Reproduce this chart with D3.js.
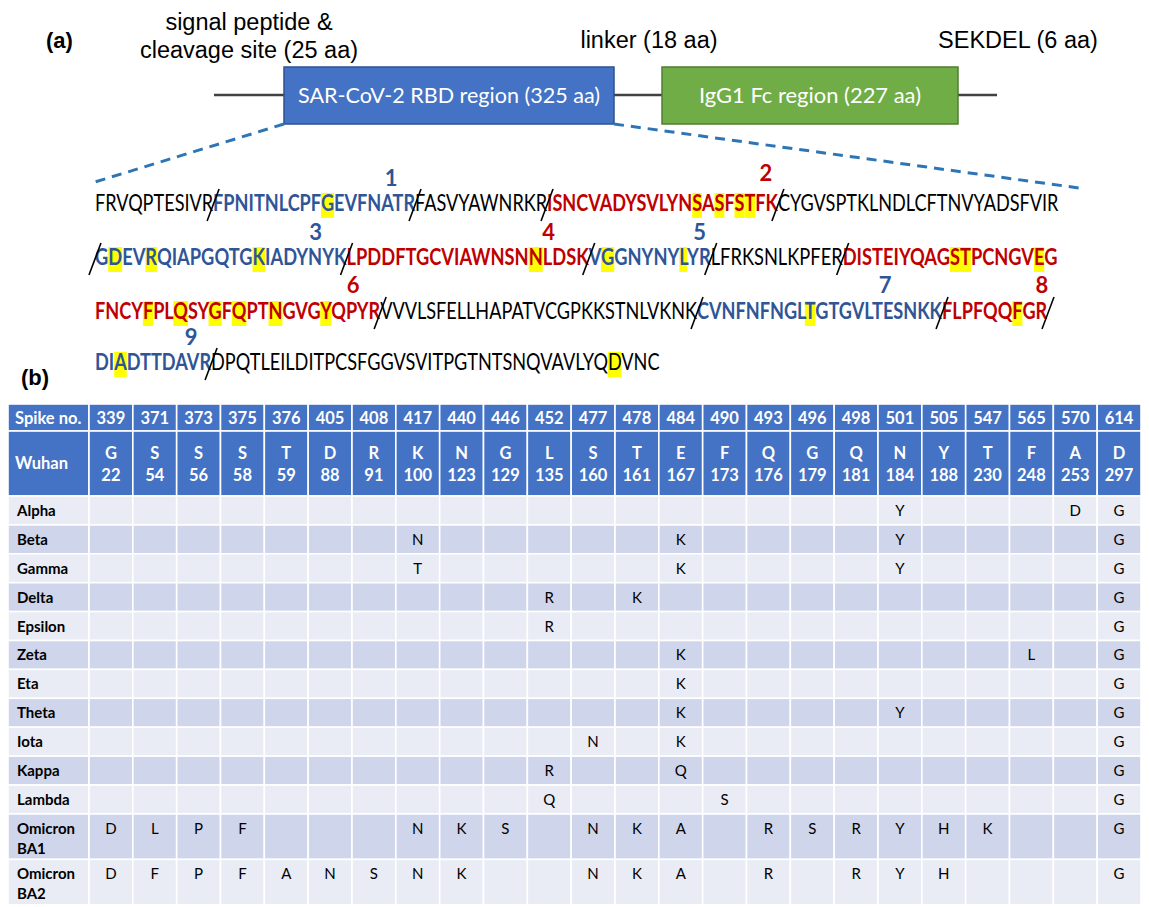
<!DOCTYPE html>
<html>
<head>
<meta charset="utf-8">
<script src="https://cdn.jsdelivr.net/npm/d3@7"></script>
<style>
  body { margin: 0; background: #fff; }
  svg { display: block; }
</style>
</head>
<body>
<div id="figure"></div>
<script>
/*
   Data
 */

// (a) construct
const constructParts = ['SAR-CoV-2 RBD region (325 aa)', 'IgG1 Fc region (227 aa)'];
const constructNotes = [['signal peptide &', 'cleavage site (25 aa)'], ['linker (18 aa)'], ['SEKDEL (6 aa)']];

// RBD sequence, line by line. '/' = cleavage mark
// [kind, residues, peptide no., highlighted residue indices]
const seqLines = [
  [['k', 'FRVQPTESIVR'], '/', ['b', 'FPNITNLCPFGEVFNATR', '1', [10]], '/', ['k', 'FASVYAWNRKR'], '/',
    ['r', 'ISNCVADYSVLYNSASFSTFK', '2', [13, 15, 17, 18]], '/', ['k', 'CYGVSPTKLNDLCFTNVYADSFVIR']],
  ['/', ['b', 'GDEVRQIAPGQTGKIADYNYK', '3', [1, 4, 13]], '/', ['r', 'LPDDFTGCVIAWNSNNLDSK', '4', [15]], '/',
    ['b', 'VGGNYNYLYR', '5', [1, 7]], '/', ['k', 'LFRKSNLKPFER'], '/', ['r', 'DISTEIYQAGSTPCNGVEG', null, [10, 11, 17]]],
  [['r', 'FNCYFPLQSYGFQPTNGVGYQPYR', '6', [4, 7, 10, 12, 15, 19]], '/', ['k', 'VVVLSFELLHAPATVCGPKKSTNLVKNK'], '/',
    ['b', 'CVNFNFNGLTGTGVLTESNKK', '7', [9]], '/', ['r', 'FLPFQQFGR', '8', [6]], '/'],
  [['b', 'DIADTTDAVR', '9', [2]], '/', ['k', 'DPQTLEILDITPCSFGGVSVITPGTNTSNQVAVLYQDVNC', null, [36]]],
];

// (b) table
const spikeNo = [339, 371, 373, 375, 376, 405, 408, 417, 440, 446, 452, 477, 478, 484, 490, 493, 496, 498, 501, 505, 547, 565, 570, 614];
const wuhanAA = ['G', 'S', 'S', 'S', 'T', 'D', 'R', 'K', 'N', 'G', 'L', 'S', 'T', 'E', 'F', 'Q', 'G', 'Q', 'N', 'Y', 'T', 'F', 'A', 'D'];
const wuhanPos = [22, 54, 56, 58, 59, 88, 91, 100, 123, 129, 135, 160, 161, 167, 173, 176, 179, 181, 184, 188, 230, 248, 253, 297];
const variants = ['Alpha', 'Beta', 'Gamma', 'Delta', 'Epsilon', 'Zeta', 'Eta', 'Theta', 'Iota', 'Kappa', 'Lambda', 'Omicron BA1', 'Omicron BA2'];
// one character per spike column, '-' = same as Wuhan
const mutations = [
  '------------------Y---DG',
  '-------N-----K----Y----G',
  '-------T-----K----Y----G',
  '----------R-K----------G',
  '----------R------------G',
  '-------------K-------L-G',
  '-------------K---------G',
  '-------------K----Y----G',
  '-----------N-K---------G',
  '----------R--Q---------G',
  '----------Q---S--------G',
  'DLPF---NKS-NKA-RSRYHK--G',
  'DFPFANSNK--NKA-R-RYH---G',
];

/*
   Setup
 */
const size = { width: 1149, height: 907 };
const svg = d3.select('#figure').append('svg').attr('width', size.width).attr('height', size.height);

const arial = "'Liberation Sans', Arial, sans-serif";
const calibri = "Lato, 'Noto Sans', sans-serif";
const colors = { k: '#000000', b: '#2F5597', r: '#C00000' };

/*
   (a) construct diagram
 */
const partA = svg.append('g');

partA.append('text').text('(a)').attr('x', 46).attr('y', 48)
  .attr('font-family', arial).attr('font-size', 22).attr('font-weight', 'bold');

partA.append('line').attr('x1', 214).attr('x2', 997).attr('y1', 95).attr('y2', 95)
  .attr('stroke', '#404040').attr('stroke-width', 2.5);

const boxes = [
  { x0: 284, x1: 614, fill: '#4472C4', stroke: '#2F528F', tl: 302 },
  { x0: 662, x1: 958, fill: '#70AD47', stroke: '#507E32', tl: 222 },
];
boxes.forEach((b, i) => {
  partA.append('rect').attr('x', b.x0).attr('y', 67).attr('width', b.x1 - b.x0).attr('height', 57)
    .attr('fill', b.fill).attr('stroke', b.stroke).attr('stroke-width', 1.5);
  partA.append('text').text(constructParts[i])
    .attr('x', (b.x0 + b.x1) / 2).attr('y', 103).attr('text-anchor', 'middle')
    .attr('font-family', calibri).attr('font-size', 21).attr('fill', '#fff')
    .attr('textLength', b.tl).attr('lengthAdjust', 'spacingAndGlyphs');
});

const noteX = [249, 649, 1018];
const noteY = [[30, 58], [48], [48]];
constructNotes.forEach((lines, i) => {
  lines.forEach((t, j) => {
    partA.append('text').text(t).attr('x', noteX[i]).attr('y', noteY[i][j])
      .attr('text-anchor', 'middle').attr('font-family', arial).attr('font-size', 23.5);
  });
});

// zoom-out dashes
[[284, 124, 95, 182], [614, 124, 1079, 188]].forEach(([x1, y1, x2, y2]) => {
  partA.append('line').attr('x1', x1).attr('y1', y1).attr('x2', x2).attr('y2', y2)
    .attr('stroke', '#2E75B6').attr('stroke-width', 3).attr('stroke-dasharray', '10,7');
});

/*
   Sequence
 */
const seqLeft = 95;
const seqRight = [1059, 1058, 1048, 660];
const seqBase = [211, 265, 319, 370];
// peptide number placement relative to the end of its peptide: [dx, dy]
const labelPos = { 1: [-24, -25], 2: [-12, -30], 3: [-31, -25], 4: [-40, -25], 5: [-11, -25], 6: [-27, -26], 7: [-57, -26], 8: [-6, -26], 9: [-20, -25] };

const seqLayer = svg.append('g');
seqLines.forEach((pieces, li) => {
  const outer = seqLayer.append('g').attr('transform', `translate(${seqLeft},${seqBase[li]})`);
  const inner = outer.append('g');
  const hlLayer = inner.append('g');
  const text = inner.append('text').attr('font-family', calibri).attr('font-size', 23);

  let idx = 0;
  const cuts = [];
  const marks = [];
  const labs = [];
  pieces.forEach((p) => {
    if (p === '/') {
      cuts.push(idx);
      return;
    }
    const [kind, str, lab, hi] = p;
    text.append('tspan').text(str).attr('fill', colors[kind]).attr('font-weight', kind === 'k' ? 400 : 700);
    (hi || []).forEach((h) => marks.push(idx + h));
    idx += str.length;
    if (lab) labs.push({ lab, kind, end: idx });
  });

  const node = text.node();
  const len = node.getComputedTextLength();
  const sx = (seqRight[li] - seqLeft) / len;
  inner.attr('transform', `scale(${sx},1)`);
  const posAt = (i) => (i >= idx ? len : node.getStartPositionOfChar(i).x);

  marks.forEach((i) => {
    const e = node.getExtentOfChar(i);
    hlLayer.append('rect').attr('x', e.x).attr('width', e.width)
      .attr('y', -18).attr('height', 25).attr('fill', '#FFFF00');
  });

  cuts.forEach((i) => {
    const cx = posAt(i) * sx;
    outer.append('line').attr('x1', cx - 6).attr('y1', 10).attr('x2', cx + 6).attr('y2', -22)
      .attr('stroke', '#000').attr('stroke-width', 1.6);
  });

  labs.forEach((l) => {
    const [dx, dy] = labelPos[l.lab];
    outer.append('text').text(l.lab)
      .attr('x', posAt(l.end) * sx + dx).attr('y', dy)
      .attr('text-anchor', 'middle').attr('font-family', calibri)
      .attr('font-size', 22).attr('font-weight', 700).attr('fill', colors[l.kind]);
  });
});

/*
   (b) table
 */
svg.append('text').text('(b)').attr('x', 21).attr('y', 385)
  .attr('font-family', arial).attr('font-size', 22).attr('font-weight', 'bold');

const tbl = svg.append('g');
const labelCol = { x0: 8, x1: 89 };
const x = d3.scaleBand().domain(spikeNo).range([labelCol.x1, 1141]);
const bw = x.bandwidth();

const headRows = [{ y0: 404, y1: 431 }, { y0: 431, y1: 496 }];
let yCursor = 496;
const bodyRows = variants.map((v, i) => {
  const lines = v.split(' ');
  const h = lines.length > 1 ? 45.5 : 28.9;
  const row = { name: v, lines, y0: yCursor, y1: yCursor + h, muts: mutations[i].split(''), i };
  yCursor += h;
  return row;
});

const cell = (x0, w, y0, y1, fill) => tbl.append('rect')
  .attr('x', x0).attr('y', y0).attr('width', w).attr('height', y1 - y0)
  .attr('fill', fill).attr('stroke', '#fff').attr('stroke-width', 1.6);

// header rows
headRows.forEach((r) => {
  cell(labelCol.x0, labelCol.x1 - labelCol.x0, r.y0, r.y1, '#4472C4');
  spikeNo.forEach((s) => cell(x(s), bw, r.y0, r.y1, '#4472C4'));
});

const headText = tbl.append('g').attr('font-family', calibri).attr('font-weight', 700)
  .attr('fill', '#fff').attr('font-size', 16.5);
headText.append('text').text('Spike no.').attr('x', 15).attr('y', 423.5);
headText.append('text').text('Wuhan').attr('x', 15).attr('y', 469);
headText.selectAll('.num').data(spikeNo).enter().append('text')
  .attr('x', (d) => x(d) + bw / 2).attr('y', 423.5).attr('text-anchor', 'middle').text((d) => d);
headText.selectAll('.aa').data(spikeNo).enter().append('text')
  .attr('x', (d) => x(d) + bw / 2).attr('y', 459).attr('text-anchor', 'middle').text((d, i) => wuhanAA[i]);
headText.selectAll('.pos').data(spikeNo).enter().append('text')
  .attr('x', (d) => x(d) + bw / 2).attr('y', 481).attr('text-anchor', 'middle').text((d, i) => wuhanPos[i]);

// body rows
bodyRows.forEach((r) => {
  const fill = r.i % 2 === 0 ? '#E9EBF5' : '#CFD5EA';
  cell(labelCol.x0, labelCol.x1 - labelCol.x0, r.y0, r.y1, fill);
  spikeNo.forEach((s) => cell(x(s), bw, r.y0, r.y1, fill));

  const base = r.lines.length > 1 ? r.y0 + 20 : (r.y0 + r.y1) / 2 + 5.5;
  r.lines.forEach((t, j) => {
    tbl.append('text').text(t).attr('x', 17).attr('y', base + j * 20)
      .attr('font-family', calibri).attr('font-size', 15).attr('font-weight', 700).attr('fill', '#000');
  });
  spikeNo.forEach((s, k) => {
    const m = r.muts[k];
    if (m === '-') return;
    tbl.append('text').text(m).attr('x', x(s) + bw / 2).attr('y', base)
      .attr('text-anchor', 'middle').attr('font-family', calibri).attr('font-size', 15).attr('fill', '#000');
  });
});
</script>
</body>
</html>
